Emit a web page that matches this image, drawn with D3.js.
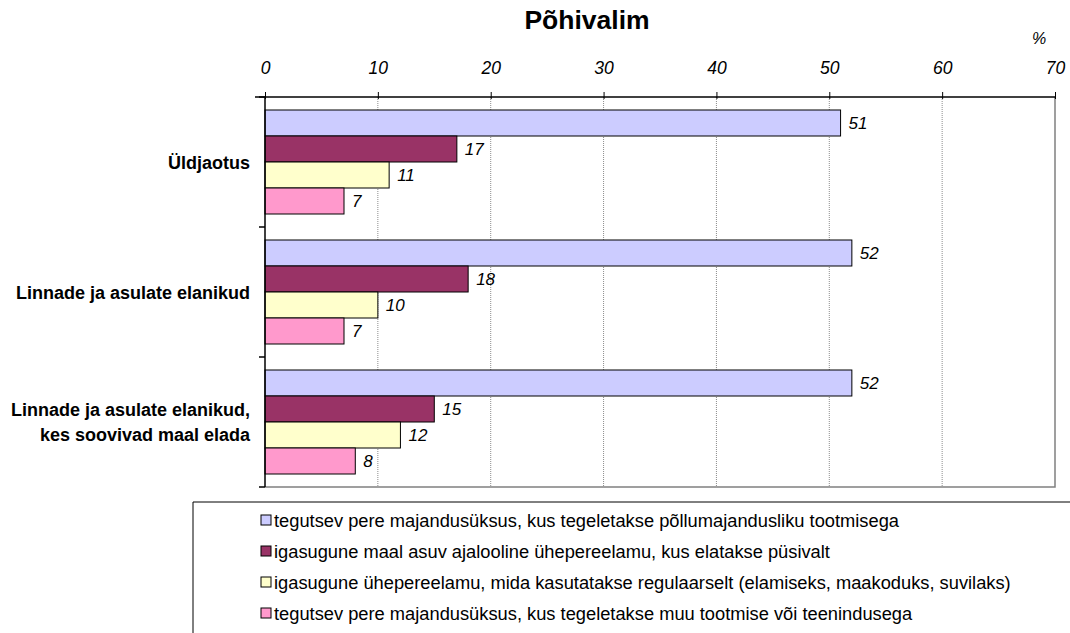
<!DOCTYPE html>
<html>
<head>
<meta charset="utf-8">
<script src="https://cdn.jsdelivr.net/npm/d3@7"></script>
<style>
  html, body { margin: 0; padding: 0; background: #fff; }
  svg { display: block; font-family: "Liberation Sans", Arial, sans-serif; }
</style>
</head>
<body>
<svg id="chart" width="1070" height="633"></svg>
<script>
// Survey groups (rows) and answer options (bars within each row)
const categories = [
  ["Üldjaotus"],
  ["Linnade ja asulate elanikud"],
  ["Linnade ja asulate elanikud,", "kes soovivad maal elada"]
];
const seriesNames = [
  "tegutsev pere majandusüksus, kus tegeletakse põllumajandusliku tootmisega",
  "igasugune maal asuv ajalooline ühepereelamu, kus elatakse püsivalt",
  "igasugune ühepereelamu, mida kasutatakse regulaarselt (elamiseks, maakoduks, suvilaks)",
  "tegutsev pere majandusüksus, kus tegeletakse muu tootmise või teenindusega"
];
// Share of respondents (%) per group, one array per answer option
const farmValues     = [51, 52, 52];
const historicValues = [17, 18, 15];
const regularValues  = [11, 10, 12];
const serviceValues  = [7, 7, 8];
const seriesValues = [farmValues, historicValues, regularValues, serviceValues];
const tickValues = [0, 10, 20, 30, 40, 50, 60, 70];
const colors = ["#CCCCFF", "#993366", "#FFFFCC", "#FF99CC"];

const svg = d3.select("#chart");
const plot = { left: 265, right: 1055, top: 97, bottom: 487 };

const x = d3.scaleLinear().domain([0, 70]).range([plot.left, plot.right]);
const y = d3.scaleBand().domain(d3.range(categories.length)).range([plot.top, plot.bottom]);
const ySub = d3.scaleBand().domain(d3.range(seriesNames.length))
  .range([0, y.bandwidth()]).paddingInner(0).paddingOuter(0.5);

// Title and unit
svg.append("text").attr("x", 587).attr("y", 29).attr("text-anchor", "middle")
  .attr("font-size", 26.5).attr("font-weight", "bold").text("Põhivalim");
svg.append("text").attr("x", 1039).attr("y", 44).attr("text-anchor", "middle")
  .attr("font-size", 16).attr("font-style", "italic").text("%");

// Vertical gridlines
svg.append("g").selectAll("line").data(tickValues.filter(t => t > 0 && t < 70)).join("line")
  .attr("x1", d => x(d)).attr("x2", d => x(d))
  .attr("y1", plot.top).attr("y2", plot.bottom)
  .attr("stroke", "#8c8c8c").attr("stroke-width", 1).attr("stroke-dasharray", "1,1");

// Plot frame on the right and bottom
svg.append("path")
  .attr("d", `M${x(70)},${plot.top}V${plot.bottom}H${plot.left}`)
  .attr("fill", "none").attr("stroke", "#808080").attr("stroke-width", 1.5);

// Bars
const groups = svg.append("g").selectAll("g").data(categories).join("g")
  .attr("transform", (d, i) => `translate(0,${y(i)})`);

groups.each(function(cat, ci) {
  const g = d3.select(this);
  seriesValues.forEach((vals, si) => {
    const v = vals[ci];
    g.append("rect")
      .attr("x", x(0)).attr("y", ySub(si))
      .attr("width", x(v) - x(0)).attr("height", ySub.bandwidth())
      .attr("fill", colors[si]).attr("stroke", "#000").attr("stroke-width", 1);
    g.append("text")
      .attr("x", x(v) + 8).attr("y", ySub(si) + ySub.bandwidth() / 2 + 6)
      .attr("font-size", 17).attr("font-style", "italic").attr("fill", "#000")
      .text(d3.format("d")(v));
  });
});

// Top value axis
const xAxis = d3.axisTop(x).tickValues(tickValues).tickSize(5).tickPadding(18)
  .tickFormat(d3.format("d"));
const ax = svg.append("g").attr("transform", `translate(0,${plot.top})`).call(xAxis);
ax.select(".domain").attr("stroke", "#000").attr("stroke-width", 1.5)
  .attr("d", `M${plot.left - 10},0H${plot.right}`);
ax.selectAll(".tick line").attr("stroke", "#000").attr("y1", 2);
ax.selectAll(".tick text").attr("font-size", 17.5).attr("font-style", "italic")
  .attr("font-family", "Liberation Sans, Arial, sans-serif").attr("fill", "#000");

// Left category axis with boundary ticks
svg.append("line").attr("x1", plot.left).attr("x2", plot.left)
  .attr("y1", plot.top).attr("y2", plot.bottom).attr("stroke", "#000").attr("stroke-width", 1.5);
svg.append("g").selectAll("line").data(d3.range(categories.length + 1)).join("line")
  .attr("x1", plot.left - 6).attr("x2", plot.left)
  .attr("y1", d => plot.top + d * y.step()).attr("y2", d => plot.top + d * y.step())
  .attr("stroke", "#000").attr("stroke-width", 1.5);

// Category labels
const catLabels = svg.append("g").selectAll("text").data(categories).join("text")
  .attr("text-anchor", "end").attr("font-size", 18).attr("font-weight", "bold").attr("fill", "#000");
catLabels.each(function(lines, i) {
  const cy = y(i) + y.bandwidth() / 2;
  const lh = 25;
  const start = cy - (lines.length - 1) * lh / 2 + 6.5;
  d3.select(this).selectAll("tspan").data(lines).join("tspan")
    .attr("x", 250).attr("y", (d, j) => start + j * lh).text(d => d);
});

// Legend
const legend = svg.append("g");
legend.append("path")
  .attr("d", "M193,640V502H1075")
  .attr("fill", "none").attr("stroke", "#000").attr("stroke-width", 1);
const items = legend.selectAll("g").data(seriesNames).join("g")
  .attr("transform", (d, i) => `translate(0,${520 + i * 31})`);
items.append("rect").attr("x", 261).attr("y", -5).attr("width", 10).attr("height", 10)
  .attr("fill", (d, i) => colors[i]).attr("stroke", "#000").attr("stroke-width", 1);
items.append("text").attr("x", 274).attr("y", 6.5).attr("font-size", 18.3).attr("fill", "#000")
  .text(d => d);
</script>
</body>
</html>
